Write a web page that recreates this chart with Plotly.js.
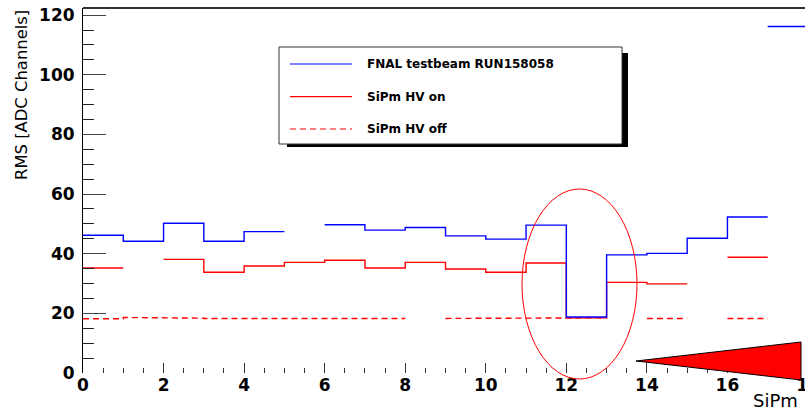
<!DOCTYPE html>
<html><head><meta charset="utf-8">
<script src="https://cdn.plot.ly/plotly-3.0.1.min.js"></script>
<style>html,body{margin:0;padding:0;overflow:hidden;background:#fff}#chart{width:809px;height:413px}</style>
</head><body><div id="chart"></div>
<script>
// ---- data ----
const binEdges = [0,1,2,3,4,5,6,7,8,9,10,11,12,13,14,15,16,17,18];
const seriesNames = ["FNAL testbeam RUN158058", "SiPm HV on", "SiPm HV off"];
const rmsBeam  = [46.2, 44.2, 50.2, 44.2, 47.4, null, 49.7, 47.9, 48.8, 46.0, 44.9, 49.6, 18.8, 39.6, 40.1, 45.2, 52.3, 116.2];
const rmsHvOn  = [35.2, null, 38.1, 33.8, 35.9, 37.1, 37.8, 35.2, 37.1, 34.9, 33.8, 36.9, 18.5, 30.4, 29.9, null, 38.8, null];
const rmsHvOff = [18.2, 18.6, 18.4, 18.3, 18.3, 18.3, 18.5, 18.3, null, 18.3, 18.3, 18.3, 18.5, null, 18.3, null, 18.3, null];
const beamBreaks = [17];
const xTickVals = [0,2,4,6,8,10,12,14,16,18];
const yTickVals = [0,20,40,60,80,100,120];
const xTitle = "SiPm";
const yTitle = "RMS [ADC Channels]";

// ---- helpers ----
function steps(vals, breaks) {
  const x = [], y = [];
  breaks = breaks || [];
  for (let i = 0; i < vals.length; i++) {
    const v = vals[i];
    if (v === null) continue;
    const prev = i > 0 ? vals[i-1] : null;
    const connected = prev !== null && !breaks.includes(binEdges[i]);
    if (!connected && x.length) { x.push(null); y.push(null); }
    x.push(binEdges[i]); y.push(v);
    x.push(binEdges[i+1]); y.push(v);
  }
  return {x, y};
}
const sOff = steps(rmsHvOff), sOn = steps(rmsHvOn), sBeam = steps(rmsBeam, beamBreaks);
const colors = ["#0000ff", "#ff0000", "#ff0000"];
const dashes = ["solid", "solid", "6px,4px"];

const traces = [
  {x: sOff.x, y: sOff.y, mode: "lines", name: seriesNames[2], line: {color: colors[2], width: 1.4, dash: dashes[2]}, connectgaps: false, showlegend: false},
  {x: sOn.x, y: sOn.y, mode: "lines", name: seriesNames[1], line: {color: colors[1], width: 1.4}, connectgaps: false, showlegend: false},
  {x: sBeam.x, y: sBeam.y, mode: "lines", name: seriesNames[0], line: {color: colors[0], width: 1.4}, connectgaps: false, showlegend: false}
];

// pixel -> paper helpers (plot area: x 83..808, y 8..373)
const PL = 83, PW = 725, PB = 373, PH = 365;
const px = v => (v - PL) / PW;
const py = v => (PB - v) / PH;

const shapes = [
  // top frame
  {type: "line", xref: "paper", yref: "paper", x0: 0, x1: 1, y0: 1, y1: 1, line: {color: "#333", width: 2}},
  // legend shadow and box
  {type: "rect", xref: "paper", yref: "paper", x0: px(287), x1: px(628), y0: py(147), y1: py(53), fillcolor: "#000", line: {width: 0}, layer: "above"},
  {type: "rect", xref: "paper", yref: "paper", x0: px(279), x1: px(622), y0: py(144), y1: py(47), fillcolor: "#fff", line: {color: "#333", width: 1}, layer: "above"},
  // ellipse
  {type: "circle", xref: "paper", yref: "paper", x0: px(522), x1: px(637), y0: py(379), y1: py(189), line: {color: "#ff0000", width: 1}, layer: "above"},
  // arrow wedge
  {type: "path", xref: "paper", yref: "paper", path: `M ${px(636)} ${py(361)} L ${px(801)} ${py(342)} L ${px(801)} ${py(380)} Z`, fillcolor: "#ff0000", line: {color: "#000", width: 1}, layer: "above"}
];
const legendRows = [64, 96.7, 129];
const annotations = [];
seriesNames.forEach((n, i) => {
  shapes.push({type: "line", xref: "paper", yref: "paper", x0: px(290), x1: px(352), y0: py(legendRows[i]), y1: py(legendRows[i]), line: {color: colors[i], width: 1.2, dash: dashes[i]}, layer: "above"});
  annotations.push({xref: "paper", yref: "paper", x: px(365), y: py(legendRows[i]), xanchor: "left", yanchor: "middle", showarrow: false, text: n, font: {family: "DejaVu Sans", size: 12, weight: "bold", color: "#000"}});
});
annotations.push({xref: "paper", yref: "paper", x: px(21), y: py(95), textangle: -90, xanchor: "center", yanchor: "middle", showarrow: false, text: yTitle, font: {family: "DejaVu Sans", size: 16.4, color: "#000"}});
annotations.push({xref: "paper", yref: "paper", x: px(751), y: py(400), xanchor: "left", yanchor: "middle", showarrow: false, text: xTitle, font: {family: "DejaVu Sans", size: 18, color: "#000"}});

const tickFont = {family: "DejaVu Sans", size: 17, weight: "bold", color: "#000"};
const layout = {
  width: 809, height: 413,
  margin: {l: PL, r: 809 - PL - PW, t: 8, b: 413 - PB},
  paper_bgcolor: "#fff", plot_bgcolor: "#fff",
  showlegend: false,
  xaxis: {range: [0, 18], tickvals: xTickVals, ticktext: xTickVals.map(String), ticks: "inside", ticklen: 10, tickwidth: 1, tickcolor: "#333",
          minor: {dtick: 0.5, tick0: 0, ticks: "inside", ticklen: 5, tickwidth: 1, tickcolor: "#333"},
          showline: false, showgrid: false, zeroline: false, tickfont: tickFont, ticklabeloverflow: "allow"},
  yaxis: {range: [0, 122.4], tickvals: yTickVals, ticktext: yTickVals.map(String), ticks: "inside", ticklen: 23, tickwidth: 1, tickcolor: "#444",
          minor: {dtick: 5, tick0: 0, ticks: "inside", ticklen: 11, tickwidth: 1, tickcolor: "#222"},
          showline: true, linecolor: "#000", linewidth: 1, showgrid: false, zeroline: false, tickfont: tickFont, ticklabelstandoff: 4},
  shapes, annotations
};
Plotly.newPlot("chart", traces, layout, {displayModeBar: false, staticPlot: true});
</script>
</body></html>
